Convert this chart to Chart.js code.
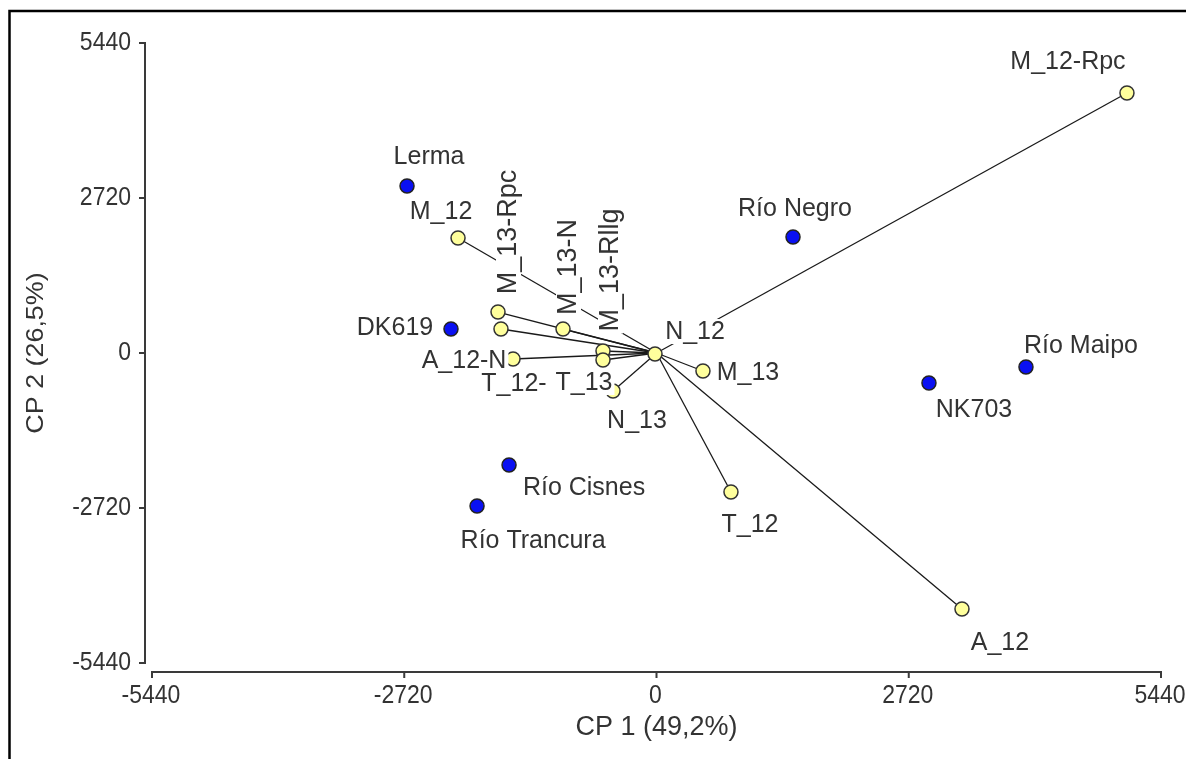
<!DOCTYPE html>
<html lang="es">
<head>
<meta charset="UTF-8">
<title>Biplot CP 1 - CP 2</title>
<script src="https://cdn.jsdelivr.net/npm/chart.js@4/dist/chart.umd.min.js"></script>
<style>
  html, body { margin: 0; padding: 0; background: #fff; }
</style>
</head>
<body>
<canvas id="grafico" width="1186" height="759"></canvas>
<script>
// genotipos (puntos azules)
const genotipos = ["Lerma", "Río Negro", "DK619", "Río Maipo", "NK703", "Río Cisnes", "Río Trancura"];
const genotiposCP1 = [-2690, 1472, -2216, 3984, 2938, -1590, -1935];
const genotiposCP2 = [2930, 2035, 421, -246, -526, -1965, -2685];

// ambientes (vectores desde el origen, puntos amarillos)
const ambientes = ["M_12-Rpc", "M_12", "M_13-Rpc", "T_12-", "M_13-N", "M_13-Rllg", "T_13", "A_12-N", "N_12", "N_13", "M_13", "T_12", "A_12"];
const ambientesCP1 = [5073, -2140, -1709, -1677, -1008, -577, -577, -1547, -16, -469, 501, 803, 3294];
const ambientesCP2 = [4562, 2018, 719, 421, 421, 35, -123, -105, -18, -667, -316, -2439, -4492];

const ticksEje = [-5440, -2720, 0, 2720, 5440];

// donde va cada etiqueta respecto de su punto (px), true = texto vertical
const posGenotipos = [[22, -30], [2, -29], [-56, -2], [55, -22], [45, 26], [75, 22], [56, 34]];
const posAmbientes = [[-59, -32], [-17, -27], [10, -80, true], [13, 54], [5, -62, true], [7, -81, true],
                      [-19, 22], [-49, 1], [40, -23], [24, 29], [45, 1], [19, 32], [38, 33]];

const colorTexto = "#333";
const fuente = '"Liberation Sans", Arial, sans-serif';

function dibujarEtiqueta(ctx, texto, px, py, pos) {
    const [dx, dy, vertical] = pos;
    ctx.save();
    ctx.translate(px + dx, py + dy);
    if (vertical) {
        ctx.rotate(-Math.PI / 2);
        ctx.font = "27px " + fuente;
    } else {
        ctx.font = "25px " + fuente;
    }
    const w = ctx.measureText(texto).width;
    ctx.fillStyle = "#fff";
    ctx.fillRect(-w / 2 - 2, -12, w + 4, 25);
    ctx.fillStyle = colorTexto;
    ctx.fillText(texto, 0, 1);
    ctx.restore();
}

// texto un poco estirado en vertical, como en el original
function textoAlto(ctx, texto, px, py, escala) {
    ctx.save();
    ctx.translate(px, py);
    ctx.scale(1, escala);
    ctx.fillText(texto, 0, 0);
    ctx.restore();
}

const pluginBiplot = {
    id: "biplot",
    beforeDraw(chart) {
        const ctx = chart.ctx;
        const { x, y } = chart.scales;
        const area = chart.chartArea;
        ctx.save();
        // marco
        ctx.strokeStyle = "#000";
        ctx.lineWidth = 2.5;
        ctx.beginPath();
        ctx.moveTo(9.5, 800);
        ctx.lineTo(9.5, 11);
        ctx.lineTo(1200, 11);
        ctx.stroke();

        // ejes separados del area
        ctx.strokeStyle = "#3a3a3a";
        ctx.lineWidth = 2;
        const ejeX = area.left - 7;
        const ejeY = area.bottom + 9;
        const yMax = y.getPixelForValue(ticksEje[ticksEje.length - 1]);
        const yMin = y.getPixelForValue(ticksEje[0]);
        const xMin = x.getPixelForValue(ticksEje[0]);
        const xMax = x.getPixelForValue(ticksEje[ticksEje.length - 1]);
        ctx.beginPath();
        ctx.moveTo(ejeX, yMax);
        ctx.lineTo(ejeX, yMin);
        ticksEje.forEach(t => {
            const py = y.getPixelForValue(t);
            ctx.moveTo(ejeX - 6, py);
            ctx.lineTo(ejeX + 1, py);
        });
        ctx.moveTo(xMin, ejeY);
        ctx.lineTo(xMax, ejeY);
        ticksEje.forEach(t => {
            const px = x.getPixelForValue(t);
            ctx.moveTo(px, ejeY - 1);
            ctx.lineTo(px, ejeY + 6);
        });
        ctx.stroke();

        // numeros de los ejes
        ctx.fillStyle = colorTexto;
        ctx.font = "23px " + fuente;
        ctx.textAlign = "right";
        ctx.textBaseline = "middle";
        ticksEje.forEach(t => textoAlto(ctx, String(t), ejeX - 14, y.getPixelForValue(t), 1.12));
        ctx.textAlign = "center";
        ticksEje.forEach(t => textoAlto(ctx, String(t), x.getPixelForValue(t) - 1, ejeY + 24, 1.12));

        // titulos
        ctx.font = "27px " + fuente;
        ctx.fillText("CP 1 (49,2%)", (area.left + area.right) / 2, 728);
        ctx.font = "24px " + fuente;
        ctx.translate(36, (area.top + area.bottom) / 2);
        ctx.rotate(-Math.PI / 2);
        ctx.scale(1.12, 1);
        ctx.fillText("CP 2 (26,5%)", 0, 0);
        ctx.restore();
    },
    afterDatasetsDraw(chart) {
        const ctx = chart.ctx;
        const { x, y } = chart.scales;
        ctx.save();
        ctx.textAlign = "center";
        ctx.textBaseline = "middle";
        genotipos.forEach((g, i) => {
            dibujarEtiqueta(ctx, g, x.getPixelForValue(genotiposCP1[i]), y.getPixelForValue(genotiposCP2[i]), posGenotipos[i]);
        });
        ambientes.forEach((a, i) => {
            dibujarEtiqueta(ctx, a, x.getPixelForValue(ambientesCP1[i]), y.getPixelForValue(ambientesCP2[i]), posAmbientes[i]);
        });
        ctx.restore();
    }
};

// un segmento desde el origen por cada ambiente
const vectores = ambientes.map((a, i) => ({
    type: "line",
    label: a,
    data: [{ x: 0, y: 0 }, { x: ambientesCP1[i], y: ambientesCP2[i] }],
    borderColor: "#1a1a1a",
    borderWidth: 1.3,
    pointRadius: 0,
    fill: false,
    order: 3
}));

new Chart(document.getElementById("grafico"), {
    type: "scatter",
    data: {
        datasets: [
            ...vectores,
            {
                label: "Ambientes",
                data: ambientes.map((a, i) => ({ x: ambientesCP1[i], y: ambientesCP2[i] })),
                backgroundColor: "#ffff9c",
                borderColor: "#333",
                borderWidth: 1.5,
                pointRadius: 7,
                order: 2
            },
            {
                label: "Genotipos",
                data: genotipos.map((g, i) => ({ x: genotiposCP1[i], y: genotiposCP2[i] })),
                backgroundColor: "#0a10f2",
                borderColor: "#222",
                borderWidth: 1.5,
                pointRadius: 7,
                order: 1
            }
        ]
    },
    options: {
        responsive: false,
        animation: false,
        devicePixelRatio: 1,
        clip: false,
        layout: { padding: { left: 152, right: 25, top: 43, bottom: 96 } },
        scales: {
            x: { type: "linear", min: -5440, max: 5440, display: false },
            y: { type: "linear", min: -5440, max: 5440, display: false }
        },
        plugins: {
            legend: { display: false },
            tooltip: { enabled: false }
        }
    },
    plugins: [pluginBiplot]
});
</script>
</body>
</html>
